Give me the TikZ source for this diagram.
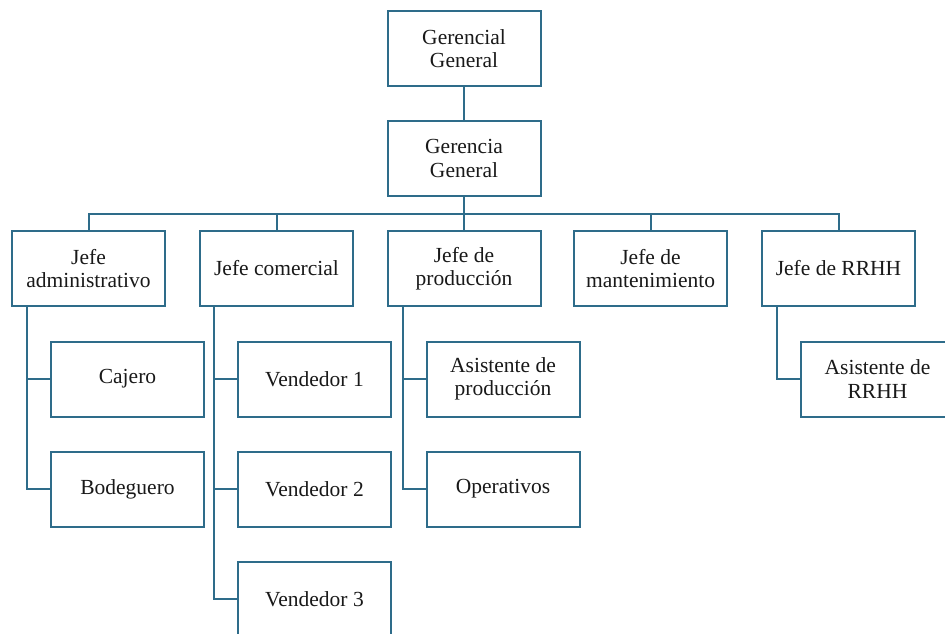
\documentclass[tikz,border=0pt]{standalone}
\usepackage{fontspec}
\setmainfont{Liberation Serif}
\definecolor{boxline}{RGB}{46,108,138}
\tikzset{
  cargo/.style={draw=boxline, line width=2pt, fill=white, minimum width=153pt, minimum height=75pt,
    align=center, inner sep=2pt, text=black!90, font=\fontsize{21.5}{23.5}\selectfont},
  link/.style={draw=boxline, line width=2pt}
}
\begin{document}
\begin{tikzpicture}[x=1pt,y=-1pt]
\useasboundingbox (0,0) rectangle (945,634);
% Gerencia
\node[cargo] (gcial) at (464,48.5) {Gerencial\\General};
\node[cargo] (ggen) at (464,158.5) {Gerencia\\General};

% Jefes
\node[cargo] (admin) at (88.5,268.5) {Jefe\\administrativo};
\node[cargo] (comer) at (276.5,268.5) {Jefe comercial};
\node[cargo] (produ) at (464,268.5) {Jefe de\\producción};
\node[cargo] (mante) at (650.5,268.5) {Jefe de\\mantenimiento};
\node[cargo] (rrhh) at (838.5,268.5) {Jefe de RRHH};

% Personal
\node[cargo] (cajero) at (127.5,379) {Cajero};
\node[cargo] (bodeg) at (127.5,489) {Bodeguero};
\node[cargo] (vend1) at (314.5,379) {Vendedor 1};
\node[cargo] (vend2) at (314.5,489) {Vendedor 2};
\node[cargo] (vend3) at (314.5,599) {Vendedor 3};
\node[cargo] (asprod) at (503,379) {Asistente de\\producción};
\node[cargo] (opera) at (503,489) {Operativos};
\node[cargo] (asrrhh) at (877.5,379) {Asistente de\\RRHH};

% Lineas
\coordinate (bus) at (464,213.5);
\draw[link] (gcial) -- (ggen);
\draw[link] (ggen) -- (bus);
\draw[link] (admin.north) -- (admin.north |- bus) -- (rrhh.north |- bus) -- (rrhh.north);
\draw[link] (comer.north) -- (comer.north |- bus);
\draw[link] (produ.north) -- (produ.north |- bus);
\draw[link] (mante.north) -- (mante.north |- bus);

\draw[link] ([xshift=16]admin.south west) |- (cajero.west);
\draw[link] ([xshift=16]admin.south west) |- (bodeg.west);
\draw[link] ([xshift=15]comer.south west) |- (vend1.west);
\draw[link] ([xshift=15]comer.south west) |- (vend2.west);
\draw[link] ([xshift=15]comer.south west) |- (vend3.west);
\draw[link] ([xshift=16]produ.south west) |- (asprod.west);
\draw[link] ([xshift=16]produ.south west) |- (opera.west);
\draw[link] ([xshift=16]rrhh.south west) |- (asrrhh.west);
\end{tikzpicture}
\end{document}
